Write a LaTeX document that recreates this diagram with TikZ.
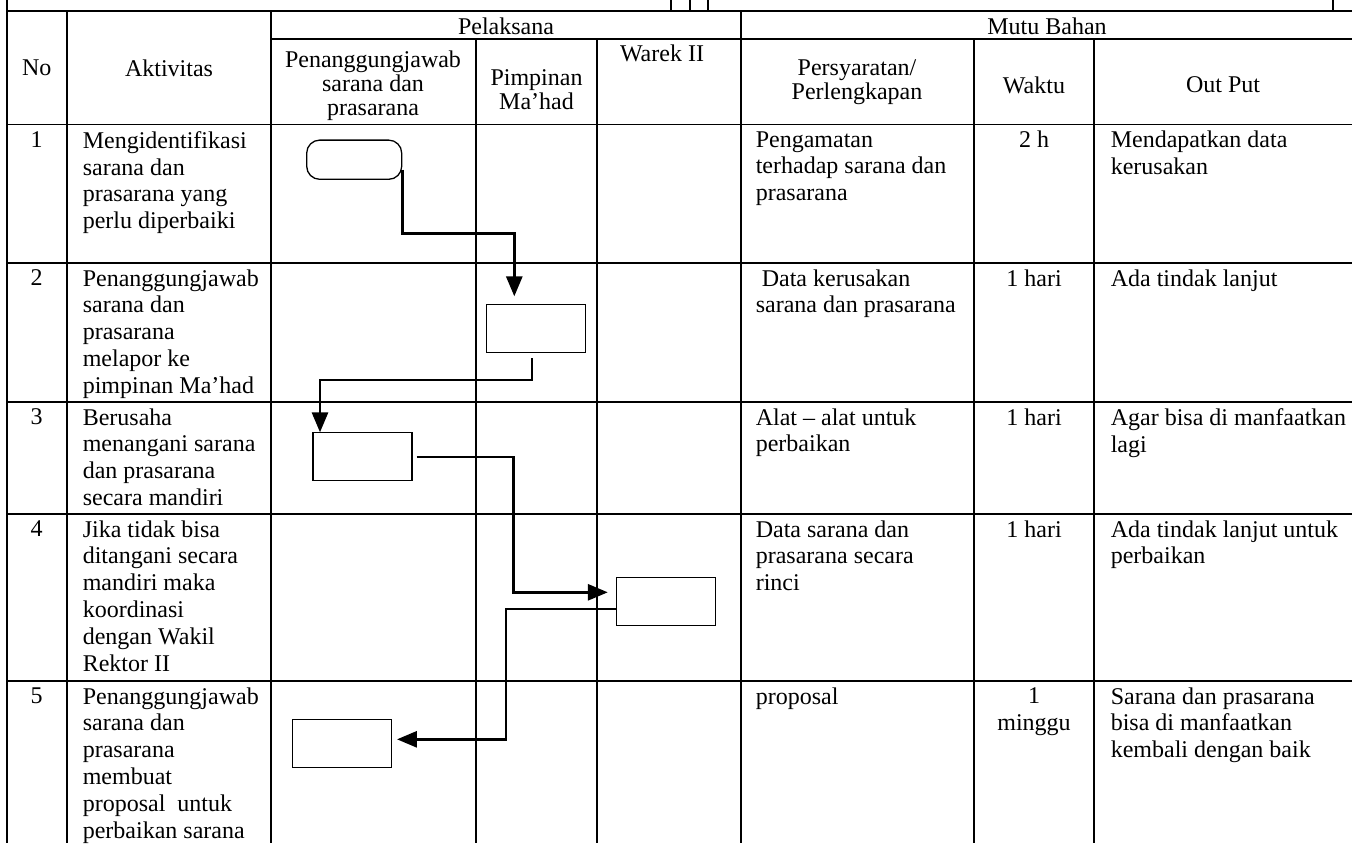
\documentclass[tikz,border=0pt]{standalone}
\usepackage{fontspec}
\setmainfont{Liberation Serif}
\usepackage{tikz}
\tikzset{every picture/.style={thick}}
\tikzset{cell/.style={anchor=north west, inner sep=0pt, align=left, font=\fontsize{12}{13.4}\selectfont}}
\tikzset{head/.style={inner sep=0pt, align=center, font=\fontsize{12}{12}\selectfont}}
\tikzset{stepbox/.style={draw, line width=0.65pt, inner sep=0pt, minimum width=49.5pt, minimum height=24pt}}
\tikzset{startbox/.style={stepbox, rounded corners=6.5pt, minimum width=47.5pt, minimum height=19.6pt}}
\tikzset{flowarrow/.style={-triangle 45, line width=1.3pt}}
\usetikzlibrary{arrows}

\begin{document}
\begin{tikzpicture}[x=0.5pt, y=-0.5pt]
\useasboundingbox (0,0) rectangle (1352,843);
% table rules
\draw (6.7,0) -- (6.7,843);
\foreach \x in {671,690,708,1333} \draw (\x,0) -- (\x,11);
\draw (6.7,11) -- (1352,11);
\draw (271,39) -- (1352,39);
\foreach \y in {124.5,262.7,401.7,513.7,680.7} \draw (6.7,\y) -- (1352,\y);
\foreach \x in {66.7,271,741} \draw (\x,11) -- (\x,843);
\foreach \x in {476,597,974,1094} \draw (\x,39) -- (\x,843);

% header
\node[head] (no) at (36.7,68) {No};
\node[head] (aktivitas) at (169,68) {Aktivitas};
\node[head] (pelaksana) at (506,26) {Pelaksana};
\node[head] (pj) at (373,86) {Penanggungjawab\\sarana dan\\prasarana};
\node[head] (pimpinan) at (536.5,90) {Pimpinan\\Ma’had};
\node[head] (hwarek) at (662,53) {Warek II};
\node[head] (mutu) at (1047,26) {Mutu Bahan};
\node[head] (syarat) at (857,82) {Persyaratan/\\Perlengkapan};
\node[head] (waktu) at (1034,85) {Waktu};
\node[head] (output) at (1223,85) {Out Put};

% rows
\foreach \i/\y in {1/124.5,2/262.7,3/401.7,4/513.7,5/680.7}
    \node[cell, anchor=north] (no\i) at (36.7,\y+6) {\i};

\node[cell] (akt1) at (82,130.5) {Mengidentifikasi\\sarana dan\\prasarana yang\\perlu diperbaiki};
\node[cell] (syarat1) at (755,130.5) {Pengamatan\\terhadap sarana dan\\prasarana};
\node[cell, anchor=north] (waktu1) at (1034,130.5) {2 h};
\node[cell] (out1) at (1110,130.5) {Mendapatkan data\\kerusakan};

\node[cell] (akt2) at (82,268.7) {Penanggungjawab\\sarana dan\\prasarana\\melapor ke\\pimpinan Ma’had};
\node[cell] (syarat2) at (755,268.7) {\hspace*{3pt}Data kerusakan\\sarana dan prasarana};
\node[cell, anchor=north] (waktu2) at (1034,268.7) {1 hari};
\node[cell] (out2) at (1110,268.7) {Ada tindak lanjut};

\node[cell] (akt3) at (82,407.7) {Berusaha\\menangani sarana\\dan prasarana\\secara mandiri};
\node[cell] (syarat3) at (755,407.7) {Alat – alat untuk\\perbaikan};
\node[cell, anchor=north] (waktu3) at (1034,407.7) {1 hari};
\node[cell] (out3) at (1110,407.7) {Agar bisa di manfaatkan\\lagi};

\node[cell] (akt4) at (82,519.7) {Jika tidak bisa\\ditangani secara\\mandiri maka\\koordinasi\\dengan Wakil\\Rektor II};
\node[cell] (syarat4) at (755,519.7) {Data sarana dan\\prasarana secara\\rinci};
\node[cell, anchor=north] (waktu4) at (1034,519.7) {1 hari};
\node[cell] (out4) at (1110,519.7) {Ada tindak lanjut untuk\\perbaikan};

\node[cell] (akt5) at (82,686.7) {Penanggungjawab\\sarana dan\\prasarana\\membuat\\proposal\ \ untuk\\perbaikan sarana};
\node[cell] (syarat5) at (755,686.7) {proposal};
\node[cell, anchor=north, align=center] (waktu5) at (1034,686.7) {1\\minggu};
\node[cell] (out5) at (1110,686.7) {Sarana dan prasarana\\bisa di manfaatkan\\kembali dengan baik};

% flow
\node[startbox] (start) at (354.2,159.7) {};
\node[stepbox] (lapor) at (535.8,328.8) {};
\node[stepbox] (mandiri) at (362.5,456.8) {};
\node[stepbox] (warek) at (666.2,601.8) {};
\node[stepbox] (proposal) at (342,743.3) {};

\draw[flowarrow] ([yshift=-5pt]start.east) -- ++(0,64) -| ([xshift=-10.75pt,yshift=4pt]lapor.north);
\draw[flowarrow] ([xshift=-2pt,yshift=-2.3pt]lapor.south) -- ++(0,22) -| ([xshift=-21.25pt]mandiri.north);
\draw[flowarrow] ([xshift=2pt]mandiri.east) -- ++(96.7,0) |- ([xshift=-4.2pt,yshift=4.75pt]warek.west);
\draw[flowarrow] ([yshift=-3.6pt]warek.west) -- ++(-110,0) |- ([xshift=2.5pt,yshift=2pt]proposal.east);
\end{tikzpicture}
\end{document}
